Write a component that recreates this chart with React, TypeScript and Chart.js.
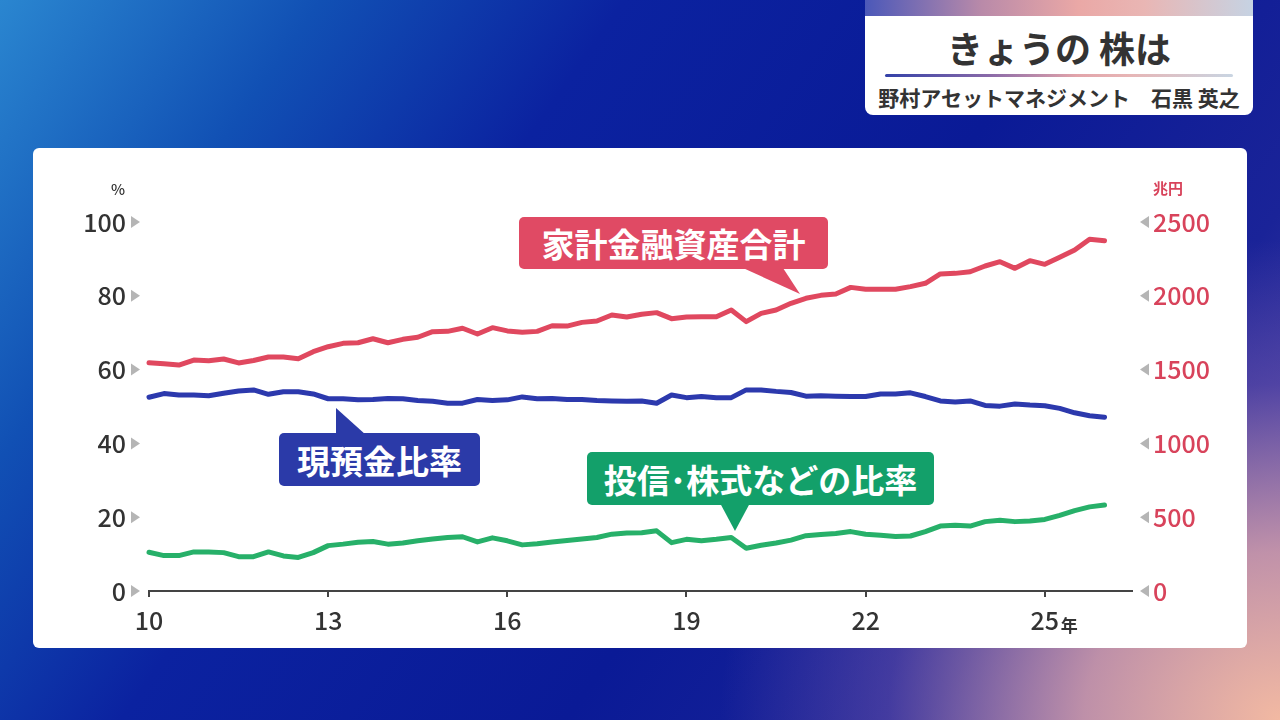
import React, { useEffect, useRef } from "react";
import { Chart, registerables } from "chart.js";

Chart.register(...registerables);

// ---- data ----
const firstYear = 10;
const quarterStep = 0.25;
const xTickYears = [10, 13, 16, 19, 22, 25];
const leftTicks = [0, 20, 40, 60, 80, 100];
const rightTicks = [0, 500, 1000, 1500, 2000, 2500];

// 家計金融資産合計 (兆円), quarterly
const totalAssets = [
  1547, 1540, 1531, 1565, 1560, 1572, 1545, 1562, 1585, 1585, 1574, 1621,
  1655, 1678, 1682, 1709, 1682, 1705, 1719, 1757, 1759, 1780, 1741, 1784,
  1762, 1753, 1759, 1797, 1795, 1820, 1829, 1870, 1856, 1875, 1886, 1845,
  1856, 1858, 1858, 1904, 1825, 1881, 1904, 1949, 1983, 2003, 2012, 2057,
  2044, 2044, 2044, 2062, 2085, 2148, 2152, 2163, 2202, 2231, 2186, 2238,
  2213, 2261, 2310, 2383, 2373,
];

// 現預金比率 (%)
const cashRatio = [
  52.5, 53.5, 53.1, 53.1, 52.9, 53.6, 54.2, 54.5, 53.3, 54.0, 54.0, 53.4,
  52.1, 52.1, 51.8, 51.9, 52.2, 52.1, 51.6, 51.4, 50.9, 50.9, 51.9, 51.6,
  51.8, 52.6, 52.1, 52.2, 51.9, 51.9, 51.6, 51.5, 51.4, 51.5, 50.9, 53.1,
  52.4, 52.7, 52.4, 52.4, 54.5, 54.5, 54.1, 53.8, 52.8, 52.9, 52.8, 52.7,
  52.7, 53.4, 53.4, 53.7, 52.7, 51.5, 51.2, 51.5, 50.3, 50.1, 50.7, 50.4,
  50.2, 49.5, 48.3, 47.5, 47.1,
];

// 投信・株式などの比率 (%)
const equityRatio = [
  10.5, 9.6, 9.6, 10.6, 10.6, 10.4, 9.3, 9.3, 10.6, 9.5, 9.1, 10.4,
  12.3, 12.7, 13.2, 13.4, 12.7, 13.0, 13.6, 14.1, 14.5, 14.7, 13.3, 14.4,
  13.6, 12.5, 12.8, 13.3, 13.7, 14.1, 14.5, 15.4, 15.7, 15.8, 16.3, 13.1,
  14.0, 13.6, 14.0, 14.5, 11.6, 12.4, 13.0, 13.8, 15.0, 15.3, 15.6, 16.1,
  15.4, 15.1, 14.8, 14.9, 16.1, 17.6, 17.8, 17.6, 18.8, 19.2, 18.8, 19.0,
  19.4, 20.5, 21.8, 22.8, 23.3,
];

const toPoints = (arr: number[]) =>
  arr.map((v, i) => ({ x: firstYear + i * quarterStep, y: v }));

const JP = '"Noto Sans CJK JP", "Noto Sans", sans-serif';

const RED = "#e0485f";
const BLUE = "#2c39ad";
const GREEN = "#27b069";

const axisMarkers = {
  id: "axisMarkers",
  afterDraw(chart: any) {
    const ctx = chart.ctx;
    const ys = chart.scales.y;
    const yr = chart.scales.y1;
    const xs = chart.scales.x;
    ctx.save();
    ctx.fillStyle = "#b5b5b5";
    ys.ticks.forEach((t: any) => {
      const py = ys.getPixelForValue(t.value);
      const bx = ys.right - 18;
      ctx.beginPath();
      ctx.moveTo(bx, py - 6);
      ctx.lineTo(bx + 9, py);
      ctx.lineTo(bx, py + 6);
      ctx.closePath();
      ctx.fill();
    });
    yr.ticks.forEach((t: any) => {
      const py = yr.getPixelForValue(t.value);
      const tx = yr.left + 8;
      ctx.beginPath();
      ctx.moveTo(tx, py);
      ctx.lineTo(tx + 9, py - 6);
      ctx.lineTo(tx + 9, py + 6);
      ctx.closePath();
      ctx.fill();
    });
    // 年 suffix after the last year label
    const last = xTickYears[xTickYears.length - 1];
    const px = xs.getPixelForValue(last);
    ctx.fillStyle = "#333";
    ctx.font = `700 17px ${JP}`;
    ctx.textAlign = "left";
    ctx.textBaseline = "alphabetic";
    ctx.fillText("年", px + 16, xs.top + 41);
    ctx.restore();
  },
};

function Callout(props: {
  left: number; top: number; width: number; height: number; color: string;
  text: string; size: number;
}) {
  return (
    <div
      style={{
        position: "absolute", left: props.left, top: props.top, width: props.width,
        height: props.height, background: props.color, borderRadius: 5,
        color: "#fff", fontFamily: JP, fontWeight: 700, fontSize: props.size,
        display: "flex", alignItems: "center", justifyContent: "center",
        whiteSpace: "nowrap", letterSpacing: 0,
      }}
    >
      {props.text}
    </div>
  );
}

export default function App() {
  const canvasRef = useRef<HTMLCanvasElement | null>(null);

  useEffect(() => {
    if (!canvasRef.current) return;
    const tickFont = { family: JP, size: 25, weight: 500 as any };
    const chart = new Chart(canvasRef.current, {
      type: "line",
      data: {
        datasets: [
          {
            label: "家計金融資産合計",
            data: toPoints(totalAssets),
            yAxisID: "y1",
            borderColor: RED,
            borderWidth: 5,
            pointRadius: 0,
            borderJoinStyle: "round",
            borderCapStyle: "round",
            clip: false as any,
          },
          {
            label: "現預金比率",
            data: toPoints(cashRatio),
            yAxisID: "y",
            borderColor: BLUE,
            borderWidth: 5,
            pointRadius: 0,
            borderJoinStyle: "round",
            borderCapStyle: "round",
            clip: false as any,
          },
          {
            label: "投信・株式などの比率",
            data: toPoints(equityRatio),
            yAxisID: "y",
            borderColor: GREEN,
            borderWidth: 5,
            pointRadius: 0,
            borderJoinStyle: "round",
            borderCapStyle: "round",
            clip: false as any,
          },
        ],
      },
      options: {
        animation: false,
        responsive: false,
        layout: { padding: { top: 74, left: 0, right: 0, bottom: 0 } },
        plugins: { legend: { display: false }, tooltip: { enabled: false } },
        scales: {
          x: {
            type: "linear",
            min: 10,
            max: 26.46,
            afterBuildTicks: (s: any) => {
              s.ticks = xTickYears.map((v) => ({ value: v }));
            },
            afterFit: (s: any) => {
              s.height = 57;
            },
            ticks: {
              callback: (v: any) => String(v),
              font: tickFont,
              color: "#333",
              padding: 8,
              maxRotation: 0,
              autoSkip: false,
            },
            grid: {
              display: true,
              drawOnChartArea: false,
              drawTicks: true,
              tickLength: 6,
              color: "#444",
              lineWidth: 2,
            },
            border: { display: true, color: "#444", width: 2 },
          },
          y: {
            position: "left",
            min: 0,
            max: 100,
            afterBuildTicks: (s: any) => {
              s.ticks = leftTicks.map((v) => ({ value: v }));
            },
            afterFit: (s: any) => {
              s.width = 116;
            },
            ticks: { font: tickFont, color: "#333", padding: 23, callback: (v: any) => String(v) },
            grid: { display: false, drawTicks: false },
            border: { display: false },
          },
          y1: {
            position: "right",
            min: 0,
            max: 2500,
            afterBuildTicks: (s: any) => {
              s.ticks = rightTicks.map((v) => ({ value: v }));
            },
            afterFit: (s: any) => {
              s.width = 115;
            },
            ticks: { font: tickFont, color: "#d8435b", padding: 21, callback: (v: any) => String(v) },
            grid: { display: false, drawTicks: false },
            border: { display: false },
          },
        },
      },
      plugins: [axisMarkers],
    } as any);
    return () => chart.destroy();
  }, []);

  return (
    <div
      style={{
        position: "absolute", left: 0, top: 0, width: 1280, height: 720, overflow: "hidden",
        background:
          "radial-gradient(ellipse 560px 480px at 100% 100%, #f2b9a2 0%, rgba(214,160,170,0.85) 35%, rgba(120,90,170,0.45) 70%, rgba(40,40,160,0) 100%), " +
          "linear-gradient(125deg, #2a86d0 0%, #1150b4 18%, #0b22a0 35%, #0a1a96 60%, #1a2398 80%, #5a4cae 100%)",
      }}
    >
      {/* title box */}
      <div
        style={{
          position: "absolute", left: 865, top: 0, width: 388, height: 115,
          background: "#fff", borderRadius: "0 0 8px 8px", overflow: "hidden",
        }}
      >
        <div
          style={{
            height: 16,
            background:
              "linear-gradient(90deg, #4b58b9 0%, #b98aa9 30%, #eaa8a6 55%, #e9b6b4 72%, #c6d3e3 100%)",
          }}
        />
        <div
          style={{
            position: "absolute", left: 0, top: 26, width: 388, textAlign: "center",
            fontFamily: JP, fontWeight: 700, fontSize: 36, color: "#333", lineHeight: "42px",
          }}
        >
          きょうの 株は
        </div>
        <div
          style={{
            position: "absolute", left: 20, top: 74, width: 348, height: 3, borderRadius: 2,
            background:
              "linear-gradient(90deg, #3341a8 0%, #8a6aa8 30%, #e2a4aa 55%, #e7b5b5 70%, #c9d5e2 100%)",
          }}
        />
        <div
          style={{
            position: "absolute", left: 0, top: 83, width: 388, textAlign: "center",
            fontFamily: JP, fontWeight: 700, fontSize: 21, color: "#333", lineHeight: "28px",
            whiteSpace: "pre",
          }}
        >
          {"野村アセットマネジメント　石黒 英之"}
        </div>
      </div>

      {/* chart card */}
      <div
        style={{
          position: "absolute", left: 33, top: 148, width: 1214, height: 500,
          background: "#fff", borderRadius: 6,
        }}
      >
        <canvas ref={canvasRef} width={1214} height={500} style={{ display: "block" }} />
        <div
          style={{
            position: "absolute", left: 78, top: 30, fontFamily: JP, fontSize: 15,
            fontWeight: 500, color: "#333",
          }}
        >
          %
        </div>
        <div
          style={{
            position: "absolute", left: 1120, top: 29, fontFamily: JP, fontSize: 15,
            fontWeight: 700, color: "#d8435b",
          }}
        >
          兆円
        </div>
      </div>

      {/* callout tails */}
      <svg
        width={1280}
        height={720}
        style={{ position: "absolute", left: 0, top: 0, pointerEvents: "none" }}
      >
        <polygon points="743,268 783,268 800,294" fill="#e04a64" />
        <polygon points="336,408 336,435 366,435" fill="#2b3aa8" />
        <polygon points="720,503 750,503 735,531" fill="#13a06a" />
      </svg>

      <Callout left={519} top={217} width={309} height={52} color="#e04a64" text="家計金融資産合計" size={33} />
      <Callout left={279} top={433} width={201} height={53} color="#2b3aa8" text="現預金比率" size={33} />
      <Callout left={587} top={452} width={347} height={53} color="#13a06a" text="投信･株式などの比率" size={33} />
    </div>
  );
}
